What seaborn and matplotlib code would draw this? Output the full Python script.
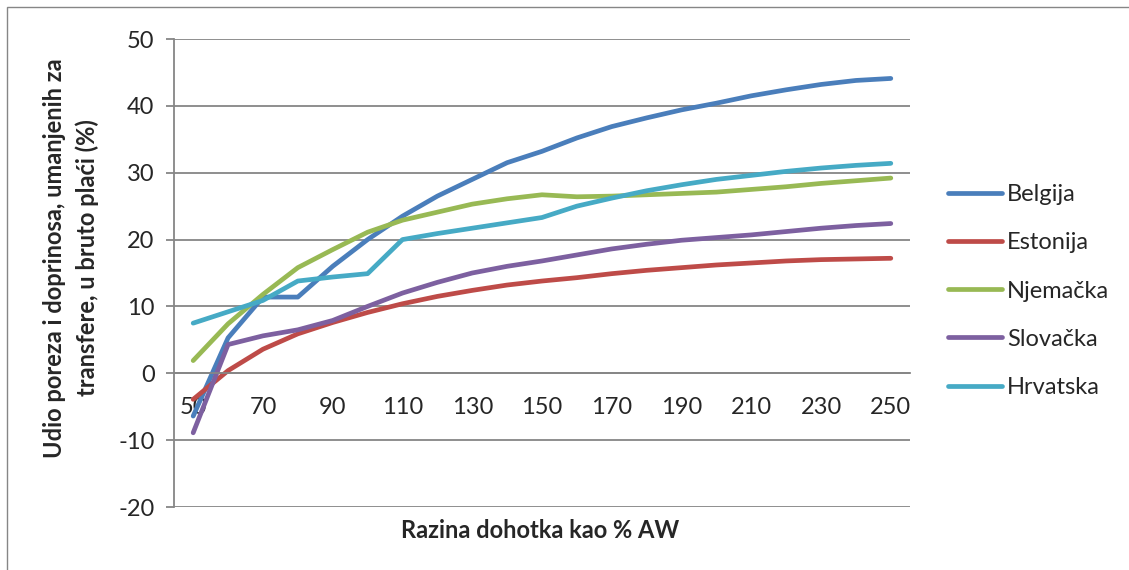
import pandas as pd
import matplotlib.pyplot as plt
import seaborn as sns
from matplotlib.patches import Rectangle

# razina dohotka kao % AW
razina = [50, 60, 70, 80, 90, 100, 110, 120, 130, 140, 150,
          160, 170, 180, 190, 200, 210, 220, 230, 240, 250]

belgija = [-6.4, 5.3, 11.4, 11.4, 16.0, 20.0, 23.5, 26.5, 29.0, 31.5, 33.2,
           35.2, 36.9, 38.2, 39.4, 40.4, 41.5, 42.4, 43.2, 43.8, 44.1]
estonija = [-3.9, 0.4, 3.6, 5.9, 7.6, 9.1, 10.4, 11.5, 12.4, 13.2, 13.8,
            14.3, 14.9, 15.4, 15.8, 16.2, 16.5, 16.8, 17.0, 17.1, 17.2]
njemacka = [1.9, 7.4, 11.8, 15.8, 18.5, 21.1, 22.9, 24.1, 25.3, 26.1, 26.7,
            26.4, 26.5, 26.7, 26.9, 27.1, 27.5, 27.9, 28.4, 28.8, 29.2]
slovacka = [-8.9, 4.3, 5.6, 6.5, 7.9, 10.0, 12.0, 13.6, 15.0, 16.0, 16.8,
            17.7, 18.6, 19.3, 19.9, 20.3, 20.7, 21.2, 21.7, 22.1, 22.4]
hrvatska = [7.5, 9.2, 10.9, 13.8, 14.4, 14.9, 20.0, 20.9, 21.7, 22.5, 23.3,
            25.0, 26.2, 27.3, 28.2, 29.0, 29.6, 30.2, 30.7, 31.1, 31.4]

zemlje = ['Belgija', 'Estonija', 'Njemačka', 'Slovačka', 'Hrvatska']
boje = ['#4A7EBB', '#BE4B48', '#98B954', '#7D60A0', '#46AAC5']
serije = [belgija, estonija, njemacka, slovacka, hrvatska]

ylabel_lines = ['Udio poreza i doprinosa, umanjenih za',
                'transfere, u bruto plaći (%)']

rows = []
for z, s in zip(zemlje, serije):
    for x, v in zip(razina, s):
        rows.append({'razina': x, 'udio': v, 'zemlja': z})
df = pd.DataFrame(rows)

sns.set_style('white')
plt.rcParams['font.family'] = ['Lato', 'DejaVu Sans']
plt.rcParams['axes.unicode_minus'] = False

fs = 17
lw = 3.4
fig = plt.figure(figsize=(11.29, 5.70), dpi=100)
ax = fig.add_axes([174 / 1129, 1 - 507 / 570, (910 - 174) / 1129, (507 - 39) / 570])

sns.lineplot(data=df, x='razina', y='udio', hue='zemlja', hue_order=zemlje,
             palette=boje, linewidth=lw, sort=False, ax=ax)
for line in ax.lines:
    line.set_solid_capstyle('round')
    line.set_solid_joinstyle('round')

grid_c = '#868686'
ax.set_xlim(44.5, 255.5)
ax.set_ylim(-20, 50)
ax.set_yticks(range(-20, 51, 10))
ax.set_xticks(range(50, 251, 20))
ax.yaxis.grid(True, color=grid_c, linewidth=1.3)
ax.set_axisbelow(True)
for sp in ['top', 'right']:
    ax.spines[sp].set_visible(False)
ax.spines['left'].set_color(grid_c)
ax.spines['left'].set_linewidth(1.3)
ax.spines['bottom'].set_position(('data', 0))
ax.spines['bottom'].set_color(grid_c)
ax.spines['bottom'].set_linewidth(1.3)
ax.tick_params(axis='y', length=6, width=1.3, color=grid_c, pad=8,
               labelsize=fs, left=True)
ax.tick_params(axis='x', length=0, pad=17, labelsize=fs)
ax.set_xlabel('')
ax.set_ylabel('')

# naslov osi y u dva retka
for xpx, txt in zip([55, 87], ylabel_lines):
    fig.text(xpx / 1129, 1 - 258 / 570, txt, rotation=90, ha='center',
             va='center', fontsize=fs, fontweight='bold')
fig.text(540 / 1129, 1 - 530 / 570, 'Razina dohotka kao % AW',
         ha='center', va='center', fontsize=fs, fontweight='bold')

sns.move_legend(ax, 'center left', bbox_to_anchor=(948 / 1129, 1 - 291 / 570),
                bbox_transform=fig.transFigure, frameon=False, title=None,
                fontsize=fs, handlelength=2.3, handletextpad=0.2,
                labelspacing=1.15, borderpad=0, borderaxespad=0)
for h in ax.get_legend().legend_handles:
    h.set_linewidth(lw)
    h.set_solid_capstyle('round')

# vanjski okvir grafikona
fig.patches.append(Rectangle((7 / 1129, -0.5), 2, 0.5 + 1 - 7 / 570,
                             transform=fig.transFigure, fill=False,
                             edgecolor=grid_c, linewidth=1))

fig.savefig('out.png', dpi=100)
